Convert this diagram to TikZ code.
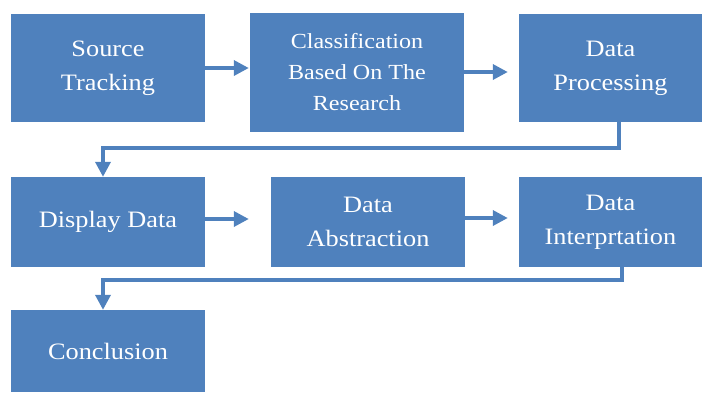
\documentclass[tikz,border=0pt]{standalone}
\usepackage{fontspec}
\setmainfont{Liberation Serif}[FakeStretch=1.12]
\usetikzlibrary{arrows.meta}

\definecolor{boxblue}{HTML}{4F81BD}

\begin{document}
\begin{tikzpicture}[x=1pt, y=-1pt,
        box/.style={fill=boxblue, draw=none, text=white, align=center, inner sep=0pt,
            font=\fontsize{23.5}{34}\selectfont},
        flow/.style={boxblue, line width=3.5pt, -{Triangle[length=15pt, width=15pt]}}]
        \useasboundingbox (0,0) rectangle (702,392);

        % first row
        \node[box, minimum width=194pt, minimum height=108pt] (src) at (108,68) {Source\\Tracking};
        \node[box, minimum width=214pt, minimum height=119pt,
            font=\fontsize{21.5}{31}\selectfont] (cls) at (357,72.5) {Classification\\Based On The\\Research};
        \node[box, minimum width=183pt, minimum height=108pt] (dp) at (610.5,68) {Data\\Processing};

        % second row
        \node[box, minimum width=194pt, minimum height=90pt] (dd) at (108,222) {Display Data};
        \node[box, minimum width=194pt, minimum height=90pt] (da) at (368,222) {Data\\Abstraction};
        \node[box, minimum width=183pt, minimum height=90pt] (di) at (610.5,222) {Data\\Interprtation};

        % last row
        \node[box, minimum width=194pt, minimum height=82pt] (cc) at (108,351) {Conclusion};

        \coordinate (k1) at (103,148);
        \coordinate (k2) at (103,280);

        \draw[flow, shorten >=1pt] (src.east) -- (src.east -| cls.west);
        \draw[flow, shorten >=11pt] ([yshift=0.5pt]cls.east) -- ([yshift=0.5pt]cls.east -| dp.west);
        \draw[flow, shorten >=22pt] ([yshift=3pt]dd.east) -- ([yshift=3pt]dd.east -| da.west);
        \draw[flow, shorten >=11pt] ([yshift=4pt]da.east) -- ([yshift=4pt]da.east -| di.west);

        \draw[flow] ([xshift=8.5pt]dp.south) |- (k1) -- (k1 |- dd.north);
        \draw[flow] ([xshift=11.5pt]di.south) |- (k2) -- (k2 |- cc.north);
    \end{tikzpicture}
\end{document}
